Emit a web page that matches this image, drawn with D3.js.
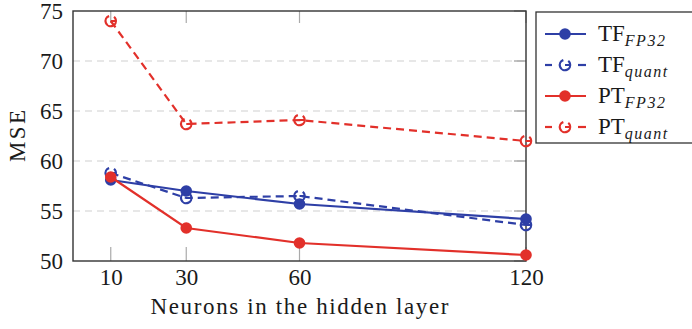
<!DOCTYPE html>
<html>
<head>
<meta charset="utf-8">
<script src="https://cdn.jsdelivr.net/npm/d3@7"></script>
</head>
<body style="margin:0; background:#fff">
<svg id="plot"></svg>
<script>
// data
const neurons = [10, 30, 60, 120];
const tfFP32 = [58.1, 57.0, 55.7, 54.2];
const tfQuant = [58.8, 56.3, 56.5, 53.6];
const ptFP32 = [58.4, 53.3, 51.8, 50.6];
const ptQuant = [74.0, 63.7, 64.1, 62.0];
const yTicks = [50, 55, 60, 65, 70, 75];

const blue = "#2e3fa6", red = "#e2302a";
const serif = "'Liberation Serif'";

const series = [
  { name: "TF", sub: "FP32", values: tfFP32, color: blue, dashed: false },
  { name: "TF", sub: "quant", values: tfQuant, color: blue, dashed: true },
  { name: "PT", sub: "FP32", values: ptFP32, color: red, dashed: false },
  { name: "PT", sub: "quant", values: ptQuant, color: red, dashed: true }
];

const W = 692, H = 329;
const margin = { top: 11, right: 166, bottom: 68, left: 73 },
  width = W - margin.left - margin.right,
  height = H - margin.top - margin.bottom;

const svg = d3.select("#plot")
    .attr("width", W)
    .attr("height", H)
  .append("g")
    .attr("transform", "translate(" + margin.left + "," + margin.top + ")");

const x = d3.scaleLinear().domain([0, 120]).range([0, width]);
const y = d3.scaleLinear().domain([50, 75]).range([height, 0]);

// dashed horizontal grid
svg.append("g").selectAll("line")
  .data(yTicks.filter(d => d > 50 && d < 75))
  .join("line")
    .attr("x1", 0).attr("x2", width)
    .attr("y1", d => y(d)).attr("y2", d => y(d))
    .attr("stroke", "#cfcfcf").attr("stroke-width", 1.2)
    .attr("stroke-dasharray", "7,5");

// y ticks on right side
svg.append("g").selectAll("line")
  .data(yTicks)
  .join("line")
    .attr("x1", width - 12).attr("x2", width)
    .attr("y1", d => y(d)).attr("y2", d => y(d))
    .attr("stroke", "#999").attr("stroke-width", 1.2);

// x ticks bottom and top
svg.append("g").selectAll("line")
  .data(neurons)
  .join("line")
    .attr("x1", d => x(d)).attr("x2", d => x(d))
    .attr("y1", height).attr("y2", height - 14)
    .attr("stroke", "#aaa").attr("stroke-width", 1.2);
svg.append("g").selectAll("line")
  .data(neurons)
  .join("line")
    .attr("x1", d => x(d)).attr("x2", d => x(d))
    .attr("y1", 0).attr("y2", 12)
    .attr("stroke", "#aaa").attr("stroke-width", 1.2);

// axes (labels only, frame drawn separately)
const xAxis = svg.append("g")
  .attr("transform", "translate(0," + height + ")")
  .call(d3.axisBottom(x).tickValues(neurons).tickSize(0).tickPadding(8));
const yAxis = svg.append("g")
  .call(d3.axisLeft(y).tickValues(yTicks).tickSize(0).tickPadding(10));
[xAxis, yAxis].forEach(a => {
  a.select(".domain").remove();
  a.attr("font-family", null).attr("font-size", null);
  a.selectAll("text")
    .style("font-family", serif)
    .style("font-size", "23px")
    .attr("fill", "#1a1a1a");
});
xAxis.selectAll("text").attr("dy", "0.71em");
yAxis.selectAll("text").attr("dy", "0.34em");

// frame
svg.append("rect")
  .attr("width", width).attr("height", height)
  .attr("fill", "none").attr("stroke", "#333").attr("stroke-width", 1.4);

// lines and markers
const line = d3.line()
  .x((d, i) => x(neurons[i]))
  .y(d => y(d));

function openMarker(g, color) {
  g.append("circle")
    .attr("r", 5.2)
    .attr("fill", "none").attr("stroke", color).attr("stroke-width", 2.2)
    .attr("stroke-dasharray", "24,5")
    .attr("transform", "rotate(-20)");
  g.append("line")
    .attr("x1", 0).attr("x2", 5).attr("y1", 0).attr("y2", 0)
    .attr("stroke", color).attr("stroke-width", 2);
}

series.forEach(s => {
  svg.append("path")
    .datum(s.values)
    .attr("d", line)
    .attr("fill", "none")
    .attr("stroke", s.color)
    .attr("stroke-width", 2.2)
    .attr("stroke-dasharray", s.dashed ? "8,5" : null);

  const marks = svg.append("g").selectAll("g")
    .data(s.values)
    .join("g")
      .attr("transform", (d, i) => "translate(" + x(neurons[i]) + "," + y(d) + ")");
  if (s.dashed) {
    marks.each(function () { openMarker(d3.select(this), s.color); });
  } else {
    marks.append("circle").attr("r", 5.8).attr("fill", s.color);
  }
});

// axis titles
svg.append("text")
  .attr("x", width / 2).attr("y", height + 53)
  .attr("text-anchor", "middle")
  .attr("textLength", 298)
  .attr("lengthAdjust", "spacing")
  .style("font-family", serif)
  .style("font-size", "23px")
  .attr("fill", "#1a1a1a")
  .text("Neurons in the hidden layer");
svg.append("text")
  .attr("transform", "translate(" + (-48) + "," + (height / 2) + ") rotate(-90)")
  .attr("text-anchor", "middle")
  .attr("textLength", 52)
  .attr("lengthAdjust", "spacing")
  .style("font-family", serif)
  .style("font-size", "23px")
  .attr("fill", "#1a1a1a")
  .text("MSE");

// legend
const lg = d3.select("#plot").append("g")
  .attr("transform", "translate(536,12)");
lg.append("rect")
  .attr("width", 160).attr("height", 131)
  .attr("fill", "#fff").attr("stroke", "#333").attr("stroke-width", 1.3);

const rows = lg.selectAll("g.row")
  .data(series)
  .join("g")
    .attr("class", "row")
    .attr("transform", (d, i) => "translate(0," + (22 + i * 31) + ")");

rows.each(function (s) {
  const r = d3.select(this);
  if (s.dashed) {
    r.append("line").attr("x1", 9).attr("x2", 16).attr("y1", 0).attr("y2", 0)
      .attr("stroke", s.color).attr("stroke-width", 2.2);
    r.append("line").attr("x1", 42).attr("x2", 50).attr("y1", 0).attr("y2", 0)
      .attr("stroke", s.color).attr("stroke-width", 2.2);
    openMarker(r.append("g").attr("transform", "translate(29,0)"), s.color);
  } else {
    r.append("line").attr("x1", 9).attr("x2", 50).attr("y1", 0).attr("y2", 0)
      .attr("stroke", s.color).attr("stroke-width", 2.2);
    r.append("circle").attr("cx", 29).attr("r", 5.8).attr("fill", s.color);
  }
  const t = r.append("text")
    .attr("x", 62).attr("y", 7)
    .style("font-family", serif)
    .style("font-size", "23px")
    .attr("fill", "#1a1a1a");
  t.append("tspan").text(s.name);
  t.append("tspan")
    .attr("dy", 5)
    .style("font-size", "16px")
    .style("font-style", "italic")
    .style("letter-spacing", "1.5px")
    .text(s.sub);
});
</script>
</body>
</html>
